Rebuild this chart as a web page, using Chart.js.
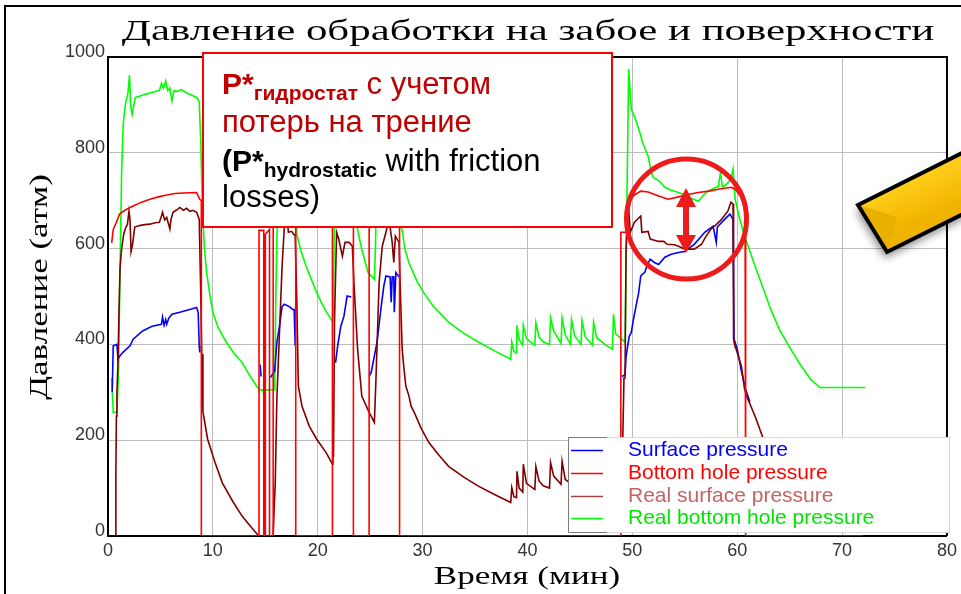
<!DOCTYPE html>
<html>
<head>
<meta charset="utf-8">
<script src="https://cdn.jsdelivr.net/npm/chart.js@4.4.1/dist/chart.umd.min.js"></script>
<style>
  html, body { margin: 0; padding: 0; background: #fff; }
  #wrap { width: 961px; height: 594px; }
</style>
</head>
<body>
<div id="wrap"><canvas id="pressChart" width="961" height="594"></canvas></div>
<script>
// Время, мин / давление, атм
const surfT = [0.4, 0.5, 0.85, 0.95, 1.1, 1.4, 2.1, 2.4, 3.3, 4.2, 5.1, 5.2, 5.35, 5.5, 5.6, 5.8, 6.1, 6.85, 7.8, 8.45, 8.6, 8.7, 8.75, 8.8,
  14.5, 14.6, 14.65,
  15.5, 15.9, 16.1, 16.35, 16.6, 16.8, 17.3, 17.6, 17.75, 17.85, 17.9,
  21.7, 21.9, 22.2, 22.5, 22.8, 23.2, 23.3,
  24.9, 25.1, 25.65, 26.05, 26.3, 26.5, 26.9, 27.0, 27.1, 27.25, 27.3, 27.45, 27.75, 27.8,
  49.0, 49.3, 49.4, 49.7, 49.9, 50.1, 50.6, 50.8, 51.2, 51.4, 51.7, 52.1, 52.5, 53.1, 53.7, 54.4, 55.0, 55.9, 56.9, 57.7, 58.0, 58.1, 58.8, 59.3, 59.6, 59.7, 60.0, 60.4, 60.8, 61.2];
const surfP = [300, 397, 400, 369, 375, 383, 397, 411, 428, 438, 442, 457, 440, 452, 442, 455, 463, 467, 473, 477, 467, 397, 383, null,
  358, 333, null,
  331, 345, 404, 438, 479, 484, 479, 473, 473, 397, null,
  362, 397, 438, 459, 501, 499, null,
  333, 342, 404, 479, 522, 543, 541, 488, 541, 541, 467, 550, 541, null,
  333, 337, 375, 417, 425, 452, 508, 543, 551, 565, 578, 571, 567, 582, 588, 592, 594, 609, 634, 647, 613, 645, 661, 672, 661, 411, 390, 344, 306, 280];

const bottomT = [0.35, 0.5, 0.8, 1.1, 1.6, 2.4, 3.2, 4.0, 4.8, 5.6, 6.4, 7.1, 8.45, 8.75, 8.9, 8.9,
  14.4, 14.4, 14.85, 14.85, 15.0, 15.0, 15.4, 15.4, 15.75, 15.75, 17.9, 17.9,
  21.4, 21.4, 23.4, 23.4, 24.9, 24.9, 25.2, 27.8, 27.8,
  48.9, 48.9, 49.4, 49.6, 50.2, 50.8, 51.5, 52.5, 53.4, 54.4, 55.3, 56.3, 57.3, 58.2, 59.4, 59.8, 60.3, 60.75, 60.8, 72.0];
const bottomP = [612, 640, 655, 672, 680, 689, 697, 703, 708, 712, 715, 716, 717, 703, 700, 0,
  0, 638, 638, 0, 0, 630, 640, 0, 0, 690, 690, 0,
  0, 700, 700, 0, 0, 640, 660, 690, 0,
  0, 634, 634, 697, 712, 720, 718, 710, 703, 708, 713, 717, 720, 724, 728, 724, 710, 690, 0, 0];

const realSurfT = [0.7, 0.75, 0.8, 0.85, 0.95, 1.05, 1.15, 1.3, 1.5, 1.7, 1.85, 2.0, 2.1, 2.2, 2.35, 2.55, 3.0, 3.5, 4.0, 4.5, 4.9, 5.1, 5.2, 5.4, 5.6, 5.9, 6.0, 6.2, 6.5, 6.85, 7.2, 7.5, 7.8, 8.1, 8.45, 8.7, 8.85, 8.95, 9.0, 9.05, 9.5, 10.2, 10.9, 11.9, 12.8, 13.6, 14.25, 14.4,
  15.75, 15.85, 15.95, 16.1, 16.35, 16.6, 16.8, 17.0, 17.2, 17.5, 17.85, 18.0, 18.15, 18.5, 19.2, 19.9, 20.8, 21.4, 21.45, 21.5, 21.6, 21.8, 22.0, 22.35, 22.6, 23.0, 23.3, 23.45, 23.8, 24.2, 24.9, 25.4,
  25.55, 25.85, 26.15, 26.5, 26.8, 27.1, 27.25, 27.4, 27.75, 27.9, 28.05, 28.2, 28.4, 28.7, 28.9, 29.2, 29.9, 30.6, 31.5, 32.5, 34.0, 35.4, 37.0, 38.4,
  38.5, 38.7, 38.95, 39.0, 39.2, 39.55, 39.6, 39.9, 40.7, 40.8, 41.1, 41.5, 42.1, 42.2, 42.5, 43.2, 43.3, 43.6, 44.1, 44.2, 44.5, 45.1, 45.2, 45.5, 46.2, 46.3, 46.6, 47.5, 48.1, 48.2, 48.4, 49.0,
  49.2, 49.3, 49.4, 49.6, 49.8, 50.2, 50.8, 50.9, 51.5, 51.7, 52.5, 53.0, 53.3, 54.0, 54.4, 55.0, 55.9, 56.6, 57.0, 57.5, 58.0, 58.5, 59.1, 59.4, 59.6, 59.65, 59.8, 59.9, 60.4, 60.7, 60.9, 61.7, 62.4, 63.0, 64.0];
const realSurfP = [0, 130, 250, 300, 360, 470, 560, 600, 630, 645, 650, 678, 660, 594, 610, 645, 648, 650, 651, 654, 655, 668, 676, 660, 665, 641, 660, 676, 680, 686, 680, 684, 678, 680, 676, 661, 500, 360, 380, 260, 202, 154, 111, 72, 41, 20, 3, 0,
  0, 60, 112, 285, 425, 563, 640, 680, 634, 636, 626, 494, 313, 271, 229, 202, 174, 150, 190, 165, 450, 634, 620, 584, 613, 613, 605, 529, 390, 292, 258, 237,
  327, 529, 605, 634, 660, 613, 571, 626, 613, 494, 390, 354, 313, 292, 271, 258, 223, 195, 170, 145, 122, 103, 85, 70,
  101, 82, 80, 135, 100, 92, 150, 110, 97, 145, 115, 105, 100, 153, 125, 108, 156, 118, 110, 150, 118, 108, 150, 118, 108, 148, 116, 108, 104, 150, 118, 110,
  330, 330, 600, 697, 634, 655, 668, 634, 636, 620, 615, 615, 609, 608, 605, 599, 599, 609, 625, 641, 650, 661, 678, 697, 693, 411, 394, 390, 354, 306, 292, 250, 208, 180, 150];

const realBotT = [0.35, 0.5, 0.85, 1.0, 1.15, 1.3, 1.45, 1.65, 1.9, 2.05, 2.15, 2.3, 2.6, 3.0, 3.5, 4.0, 4.5, 4.9, 5.1, 5.3, 5.5, 5.7, 5.9, 6.1, 6.3, 6.6, 7.0, 7.5, 8.0, 8.5, 8.7, 8.85, 9.0, 9.2, 9.4, 9.7, 10.0, 10.5, 11.3, 12.0, 12.8, 13.5, 14.2, 14.45, 14.8, 14.9, 15.0, 15.9,
  16.0, 16.2, 16.5, 17.0, 17.5, 17.9, 18.0, 18.4, 18.9, 19.4, 19.9, 20.4, 20.8, 21.4, 21.5, 21.6, 21.8, 22.5, 23.0, 23.6, 23.7, 24.2, 24.8, 25.4, 25.5, 25.6, 26.0, 27.0, 27.9,
  28.0, 28.3, 28.7, 29.0, 29.5, 30.1, 31.0, 32.5, 34.0, 35.4, 37.0, 38.4,
  38.5, 38.7, 38.95, 39.0, 39.2, 39.55, 39.6, 39.9, 40.7, 40.8, 41.1, 41.5, 42.1, 42.2, 42.5, 43.2, 43.3, 43.6, 44.1, 44.2, 44.5, 45.1, 45.2, 45.5, 46.2, 46.3, 46.6, 47.5, 48.1, 48.2, 48.4, 49.0, 49.3,
  49.45, 49.65, 49.9, 50.3, 50.6, 51.0, 51.5, 51.8, 52.0, 52.3, 52.7, 53.1, 53.7, 54.4, 55.0, 55.6, 56.3, 56.8, 57.2, 57.7, 58.2, 58.4, 58.6, 59.0, 59.4, 59.6, 59.8,
  60.2, 60.7, 61.2, 61.7, 62.5, 63.2, 64.0, 65.1, 66.0, 67.0, 67.9, 72.2];
const realBotP = [330, 258, 258, 340, 560, 760, 860, 900, 925, 962, 900, 880, 915, 918, 922, 925, 928, 930, 945, 935, 950, 930, 935, 908, 930, 928, 932, 925, 920, 915, 905, 820, 680, 600, 551, 505, 467, 435, 404, 382, 362, 335, 312, 305, 305, 282, 305, 305,
  500, 720, 760, 745, 730, 720, 630, 595, 563, 535, 508, 485, 469, 448, 470, 700, 760, 740, 725, 690, 650, 598, 550, 536, 600, 720, 760, 740, 720,
  645, 600, 570, 555, 530, 508, 480, 446, 422, 404, 385, 369,
  405, 385, 382, 440, 410, 398, 440, 412, 398, 445, 415, 405, 400, 456, 428, 402, 455, 420, 400, 452, 418, 400, 450, 416, 398, 446, 414, 398, 390, 463, 422, 411, 404,
  650, 975, 891, 870, 850, 820, 793, 760, 748, 745, 738, 728, 722, 717, 712, 705, 699, 712, 720, 725, 730, 759, 728, 735, 745, 766, 703,
  665, 626, 595, 563, 515, 473, 432, 390, 358, 327, 310, 310];

const xTicks = [0, 10, 20, 30, 40, 50, 60, 70, 80];
const yTicks = [0, 200, 400, 600, 800, 1000];

const seriesNames = ['Surface pressure', 'Bottom hole pressure', 'Real surface pressure', 'Real bottom hole pressure'];

const pts = (t, p) => t.map((x, i) => ({ x: x, y: p[i] }));

const SANS = '"Liberation Sans", Arial, sans-serif';
const SERIF = '"Liberation Serif", "Times New Roman", serif';

// текст, растянутый по горизонтали
function wideText(ctx, text, x, y, size, sx, angle) {
  ctx.save();
  ctx.translate(x, y);
  if (angle) ctx.rotate(angle);
  ctx.scale(sx, 1);
  ctx.font = size + 'px ' + SERIF;
  ctx.fillStyle = '#000';
  ctx.textAlign = 'center';
  ctx.textBaseline = 'alphabetic';
  ctx.fillText(text, 0, 0);
  ctx.restore();
}

// строка из нескольких кусков (с нижними индексами)
function runs(ctx, x, y, parts) {
  ctx.textAlign = 'left';
  ctx.textBaseline = 'alphabetic';
  parts.forEach(p => {
    ctx.font = p.f;
    ctx.fillStyle = p.c;
    ctx.fillText(p.t, x, y + (p.dy || 0));
    x += ctx.measureText(p.t).width;
  });
}

const decorPlugin = {
  id: 'decor',
  afterDatasetsDraw(chart) {
    const { ctx, chartArea: a } = chart;
    // верх и правая граница поля графика
    ctx.save();
    ctx.strokeStyle = '#000';
    ctx.lineWidth = 2;
    ctx.beginPath();
    ctx.moveTo(a.left, a.top);
    ctx.lineTo(a.right, a.top);
    ctx.lineTo(a.right, a.bottom);
    ctx.stroke();
    ctx.restore();
  },
  afterDraw(chart) {
    const ctx = chart.ctx;
    ctx.save();

    // рамка вокруг рисунка
    ctx.strokeStyle = '#000';
    ctx.lineWidth = 2;
    ctx.beginPath();
    ctx.moveTo(5, 594);
    ctx.lineTo(5, 6);
    ctx.lineTo(961, 6);
    ctx.stroke();

    // заголовок и подписи осей
    wideText(ctx, 'Давление обработки на забое и поверхности', 528, 40, 30, 1.43, 0);
    wideText(ctx, 'Время (мин)', 527, 584, 25, 1.4, 0);
    wideText(ctx, 'Давление (атм)', 47, 287, 25, 1.4, -Math.PI / 2);

    // выноска с пояснением
    ctx.fillStyle = '#fff';
    ctx.fillRect(203, 53, 409, 174);
    ctx.strokeStyle = '#ff0000';
    ctx.lineWidth = 2;
    ctx.strokeRect(203, 53, 409, 174);
    const dr = '#c00000';
    runs(ctx, 222, 94, [
      { t: 'P*', f: 'bold 30px ' + SANS, c: dr },
      { t: 'гидростат', f: 'bold 21px ' + SANS, c: dr, dy: 6 },
      { t: ' с учетом', f: '31px ' + SANS, c: dr }
    ]);
    runs(ctx, 222, 132, [{ t: 'потерь на трение', f: '31px ' + SANS, c: dr }]);
    runs(ctx, 222, 171, [
      { t: '(P*', f: 'bold 30px ' + SANS, c: '#000' },
      { t: 'hydrostatic', f: 'bold 21px ' + SANS, c: '#000', dy: 6 },
      { t: ' with friction', f: '31px ' + SANS, c: '#000' }
    ]);
    runs(ctx, 222, 207, [{ t: 'losses)', f: '31px ' + SANS, c: '#000' }]);

    // круг и двойная стрелка
    ctx.strokeStyle = '#ee1b1b';
    ctx.lineWidth = 5;
    ctx.beginPath();
    ctx.arc(686.5, 219, 60, 0, Math.PI * 2);
    ctx.stroke();
    ctx.fillStyle = '#ee1b1b';
    ctx.fillRect(683, 203, 6, 36);
    ctx.beginPath();
    ctx.moveTo(686, 188); ctx.lineTo(696, 207); ctx.lineTo(676, 207); ctx.closePath();
    ctx.moveTo(686, 253); ctx.lineTo(696, 235); ctx.lineTo(676, 235); ctx.closePath();
    ctx.fill();

    // жёлтый карандаш справа
    ctx.save();
    ctx.beginPath();
    ctx.rect(0, 0, 961, 594);
    ctx.clip();
    const A = [858, 205], B = [887, 252];
    const C = [B[0] + 130, B[1] - 65], D = [A[0] + 130, A[1] - 65];
    ctx.shadowColor = 'rgba(0,0,0,0.45)';
    ctx.shadowBlur = 9;
    ctx.shadowOffsetX = -2;
    ctx.shadowOffsetY = 6;
    const g = ctx.createLinearGradient(870, 200, 885, 235);
    g.addColorStop(0, '#ffcc1a');
    g.addColorStop(1, '#f0b400');
    ctx.fillStyle = g;
    ctx.beginPath();
    ctx.moveTo(A[0], A[1]); ctx.lineTo(B[0], B[1]); ctx.lineTo(C[0], C[1]); ctx.lineTo(D[0], D[1]); ctx.closePath();
    ctx.fill();
    ctx.shadowColor = 'transparent';
    ctx.fillStyle = '#eab000';
    ctx.beginPath();
    ctx.moveTo(A[0], A[1]); ctx.lineTo(897, 217); ctx.lineTo(B[0], B[1]); ctx.closePath();
    ctx.fill();
    ctx.strokeStyle = '#000';
    ctx.lineWidth = 4;
    ctx.lineJoin = 'miter';
    ctx.beginPath();
    ctx.moveTo(A[0], A[1]); ctx.lineTo(B[0], B[1]); ctx.lineTo(C[0], C[1]); ctx.lineTo(D[0], D[1]); ctx.closePath();
    ctx.stroke();
    ctx.restore();

    // легенда
    const lx = 568, ly = 437, lw = 381, lh = 95;
    ctx.fillStyle = '#fff';
    ctx.fillRect(lx, ly, lw, lh);
    ctx.lineWidth = 1;
    ctx.strokeStyle = '#d8d8d8';
    ctx.strokeRect(lx + 0.5, ly + 0.5, lw, lh);
    ctx.strokeStyle = '#7a7a7a';
    ctx.beginPath();
    ctx.moveTo(607, ly + 0.5); ctx.lineTo(lx + 0.5, ly + 0.5); ctx.lineTo(lx + 0.5, ly + lh + 0.5); ctx.lineTo(607, ly + lh + 0.5);
    ctx.stroke();
    const sampleCols = ['#0000ff', '#ff0000', '#a04444', '#00ff00'];
    const textCols = ['#0000ff', '#ff0000', '#c46464', '#00e600'];
    const rowY = [450, 473, 496, 518];
    ctx.font = '21px ' + SANS;
    ctx.textAlign = 'left';
    ctx.textBaseline = 'middle';
    seriesNames.forEach((name, i) => {
      ctx.strokeStyle = sampleCols[i];
      ctx.lineWidth = 1.5;
      ctx.beginPath();
      ctx.moveTo(571, rowY[i] + 0.5);
      ctx.lineTo(603, rowY[i] + 0.5);
      ctx.stroke();
      ctx.fillStyle = textCols[i];
      ctx.fillText(name, 628, rowY[i]);
    });

    ctx.restore();
  }
};

new Chart(document.getElementById('pressChart'), {
  type: 'line',
  data: {
    datasets: [
      { label: seriesNames[0], data: pts(surfT, surfP), borderColor: '#0000ff', order: 3 },
      { label: seriesNames[1], data: pts(bottomT, bottomP), borderColor: '#ff0000', order: 1 },
      { label: seriesNames[2], data: pts(realSurfT, realSurfP), borderColor: '#800000', order: 2 },
      { label: seriesNames[3], data: pts(realBotT, realBotP), borderColor: '#00ff00', order: 4 }
    ]
  },
  options: {
    responsive: false,
    animation: false,
    events: [],
    spanGaps: false,
    layout: { padding: { left: 0, right: 11, top: 57, bottom: 0 } },
    elements: {
      point: { radius: 0 },
      line: { tension: 0, borderWidth: 1.6, fill: false }
    },
    scales: {
      x: {
        type: 'linear',
        min: 0, max: 80,
        afterBuildTicks: s => { s.ticks = xTicks.map(v => ({ value: v })); },
        afterFit: s => { s.height = 58; },
        ticks: { color: '#333', font: { family: SANS, size: 18 }, padding: 4, maxRotation: 0, callback: v => String(v) },
        grid: { color: '#bcbcbc', lineWidth: 1, drawTicks: false },
        border: { color: '#000', width: 2 }
      },
      y: {
        type: 'linear',
        min: 0, max: 1000,
        afterBuildTicks: s => { s.ticks = yTicks.map(v => ({ value: v })); },
        afterFit: s => { s.width = 108; },
        ticks: { color: '#333', font: { family: SANS, size: 18 }, padding: 3, labelOffset: -5, callback: v => String(v) },
        grid: { color: '#bcbcbc', lineWidth: 1, drawTicks: false },
        border: { color: '#000', width: 2 }
      }
    },
    plugins: {
      legend: { display: false },
      tooltip: { enabled: false },
      title: { display: false }
    }
  },
  plugins: [decorPlugin]
});
</script>
</body>
</html>
